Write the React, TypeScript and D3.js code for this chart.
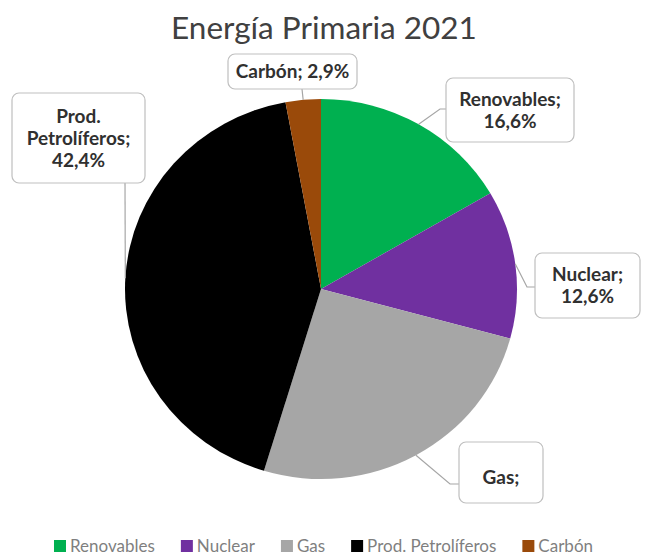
import React, { useEffect, useRef } from 'react';
import * as d3 from 'd3';

const categories = ['Renovables', 'Nuclear', 'Gas', 'Prod. Petrolíferos', 'Carbón'];
const values = [16.6, 12.6, 25.5, 42.4, 2.9];
const colors = ['#00B050', '#7030A0', '#A6A6A6', '#000000', '#9A4A0A'];
// text shown in each data label (Gas has no value in the original)
const labelLines = [
  ['Renovables;', '16,6%'],
  ['Nuclear;', '12,6%'],
  ['Gas;'],
  ['Prod.', 'Petrolíferos;', '42,4%'],
  ['Carbón; 2,9%'],
];

// label box layout and leader-line elbows
const labelBoxes = [
  { x: 446, y: 78, w: 128, h: 64, dy: 0, leader: [[446, 109], [440, 109]] },
  { x: 535, y: 253, w: 105, h: 65, dy: 0, leader: [[535, 287], [527, 287]] },
  { x: 459, y: 442, w: 84, h: 61, dy: 5, leader: [[459, 484], [450, 484]] },
  { x: 12, y: 93, w: 133, h: 90, dy: 0, leader: [[125, 183]] },
  { x: 228, y: 54, w: 129, h: 35, dy: 0, leader: [[302, 89]] },
];

const App: React.FC = () => {
  const svgRef = useRef<SVGSVGElement>(null);

  useEffect(() => {
    if (!svgRef.current) return;
    const svg = d3.select(svgRef.current);
    svg.selectAll('*').remove();

    const width = 646;
    const cx = 321;
    const cy = 289;
    const r = 190;
    const sx = 196 / 190; // the original is slightly stretched horizontally

    svg.append('rect').attr('width', width).attr('height', 555).attr('fill', '#fff');

    // Title
    svg.append('text')
      .attr('x', 324)
      .attr('y', 39)
      .attr('text-anchor', 'middle')
      .attr('font-family', 'Lato, sans-serif')
      .attr('font-size', 31.5)
      .attr('fill', '#404040')
      .text('Energía Primaria 2021');

    const data = categories.map((c, i) => ({ name: c, value: values[i], i }));
    const pie = d3.pie<any>().sort(null).value(d => d.value);
    const arcs = pie(data);
    const arc = d3.arc<any>().innerRadius(0).outerRadius(r);

    const g = svg.append('g').attr('transform', `translate(${cx},${cy}) scale(${sx},1)`);
    g.selectAll('path')
      .data(arcs)
      .join('path')
      .attr('d', arc)
      .attr('fill', d => colors[d.data.i]);

    // Leader lines
    arcs.forEach((a, i) => {
      const mid = (a.startAngle + a.endAngle) / 2;
      const [px, py] = d3.pointRadial(mid, r);
      const pts: [number, number][] = [...(labelBoxes[i].leader as [number, number][]), [cx + px * sx, cy + py]];
      svg.append('path')
        .attr('d', d3.line()(pts))
        .attr('fill', 'none')
        .attr('stroke', '#A6A6A6')
        .attr('stroke-width', 1.2);
    });

    // Label boxes
    labelBoxes.forEach((b, i) => {
      svg.append('rect')
        .attr('x', b.x).attr('y', b.y)
        .attr('width', b.w).attr('height', b.h)
        .attr('rx', 7)
        .attr('fill', '#fff')
        .attr('stroke', '#BFBFBF')
        .attr('stroke-width', 1.2);
      const lines = labelLines[i];
      const lh = 22;
      const startY = b.y + b.h / 2 - ((lines.length - 1) * lh) / 2 + b.dy;
      const t = svg.append('text')
        .attr('text-anchor', 'middle')
        .attr('font-family', 'Lato, sans-serif')
        .attr('font-weight', 'bold')
        .attr('font-size', 19)
        .attr('fill', '#303030');
      lines.forEach((l, j) => {
        t.append('tspan')
          .attr('x', b.x + b.w / 2)
          .attr('y', startY + j * lh)
          .attr('dy', '0.35em')
          .text(l);
      });
    });

    // Legend
    const lg = svg.append('g');
    let x = 0;
    const legendY = 546;
    const gap = 26;
    categories.forEach((c, i) => {
      lg.append('rect')
        .attr('x', x).attr('y', legendY - 6)
        .attr('width', 12).attr('height', 12)
        .attr('fill', colors[i]);
      const txt = lg.append('text')
        .attr('x', x + 16)
        .attr('y', legendY)
        .attr('dy', '0.35em')
        .attr('font-family', 'Lato, sans-serif')
        .attr('font-size', 17)
        .attr('fill', '#7F7F7F')
        .text(c);
      const w = (txt.node() as SVGTextElement).getComputedTextLength();
      x += 16 + w + gap;
    });
    const total = x - gap;
    lg.attr('transform', `translate(${323.5 - total / 2},0)`);
  }, []);

  return (
    <svg
      ref={svgRef}
      width={646}
      height={555}
      style={{ position: 'absolute', left: 0, top: 0 }}
    />
  );
};

export default App;
